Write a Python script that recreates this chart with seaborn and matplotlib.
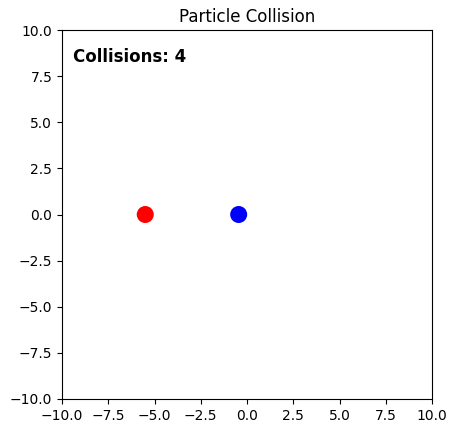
import matplotlib
matplotlib.use('Agg')
import matplotlib.pyplot as plt
import seaborn as sns
import pandas as pd

# particle positions
names = ['A', 'B']
x_pos = [-5.5, -0.45]
y_pos = [0.0, 0.0]
colors = ['red', 'blue']
collisions = 4

df = pd.DataFrame({'name': names, 'x': x_pos, 'y': y_pos})

fig = plt.figure(figsize=(4.57, 4.33), dpi=100)
ax = fig.add_axes([62 / 457, 34 / 433, 370 / 457, 369 / 433])
sns.scatterplot(data=df, x='x', y='y', hue='name', palette=colors,
                s=150, edgecolor='none', legend=False, ax=ax)
ax.set_xlim(-10, 10)
ax.set_ylim(-10, 10)
ax.set_xlabel('')
ax.set_ylabel('')
ax.set_title('Particle Collision')
ax.text(0.03, 0.95, f'Collisions: {collisions}', transform=ax.transAxes,
        fontsize=12, fontweight='bold', va='top')

fig.savefig('out.png', dpi=100)
